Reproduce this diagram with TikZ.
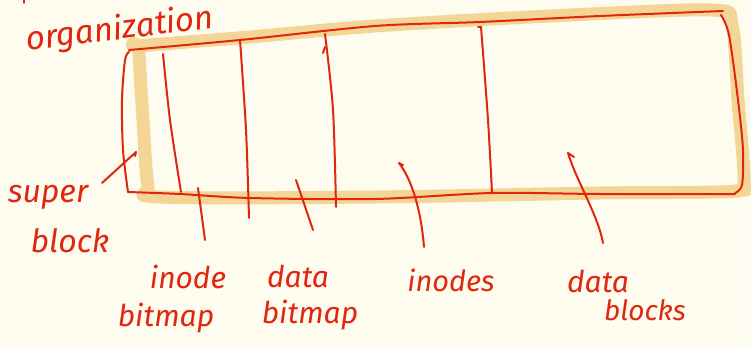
\documentclass[tikz,border=0pt]{standalone}
\usepackage{fontspec}
\setmainfont{Fira Sans}
\definecolor{bg}{HTML}{FEFCEE}
\definecolor{pen}{HTML}{E0260F}
\definecolor{hl}{HTML}{F3D595}
\begin{document}
\begin{tikzpicture}[x=1pt,y=-1pt,
  ink/.style={draw=pen,line width=2pt,line cap=round,line join=round},
  hilite/.style={draw=hl,line width=13pt,line cap=round,line join=round},
  lbl/.style={text=pen,font=\itshape\fontsize{#1}{#1}\selectfont,inner sep=0pt,anchor=center},
  lbl/.default=30]
\fill[bg] (0,0) rectangle (751,347);
\useasboundingbox (0,0) rectangle (751,347);
% highlight band
\draw[hilite] plot[smooth,tension=0.5] coordinates {(136,46) (250,37) (375,26) (550,16) (712,10) (732,25) (738,100) (744,178) (736,191) (600,193) (375,197) (160,197) (148,185) (143,120) (139,55)};
\fill[hl] (134,45) circle (8);
% block outline
\draw[ink] plot[smooth,tension=0.5] coordinates {(129,50) (240,40) (375,26) (480,22) (600,16) (723,11)};
\draw[ink] plot[smooth,tension=0.5] coordinates {(721,15) (729,35) (738,100) (743,150) (742,185) (735,193)};
\draw[ink] plot[smooth,tension=0.5] coordinates {(735,194) (600,194) (492,193) (375,199) (250,198) (180,194) (128,192)};
\draw[ink] plot[smooth,tension=0.5] coordinates {(128,192) (123,150) (122,100) (125,60) (129,52)};
% dividers
\draw[ink] plot[smooth] coordinates {(163,54) (170,120) (181,192)};
\draw[ink] plot[smooth] coordinates {(240,40) (246,130) (249,218)};
\draw[ink] (323,53) -- (325,47);
\draw[ink] plot[smooth] coordinates {(325,34) (333,110) (336,207)};
\draw[ink] (478,27) -- (481,27);
\draw[ink] plot[smooth] coordinates {(481,27) (488,120) (492,193)};
% labels
\node[lbl=33,rotate=7] (org) at (120,30) {organization};
\draw[ink] (24,0) -- (24,3);
\node[lbl=32] (super) at (48,197) {super};
\node[lbl=32] (block) at (70,241) {block};
\node[lbl=30] (inodeA) at (188,277) {inode};
\node[lbl=30] (bitmapA) at (166,318) {bitmap};
\node[lbl=30] (dataA) at (298,276) {data};
\node[lbl=30] (bitmapB) at (310,315) {bitmap};
\node[lbl=29] (inodes) at (451,280) {inodes};
\node[lbl=30] (dataB) at (598,281) {data};
\node[lbl=28] (blocks) at (645,310) {blocks};
% pointer ends
\coordinate (sbTail) at (102,183);
\coordinate (sbTip) at (136,152);
\coordinate (ibTail) at (205,240);
\coordinate (ibTip) at (198,188);
\coordinate (dbTail) at (313,230);
\coordinate (dbTip) at (296,180);
\coordinate (inTail) at (424,247);
\coordinate (inTip) at (399,163);
\coordinate (dkTail) at (603,243);
\coordinate (dkTip) at (568,153);
% pointers
\draw[ink] (sbTail) -- (sbTip) -- ++(-1,4);
\draw[ink] (ibTail) -- (ibTip);
\draw[ink] (dbTail) -- (dbTip);
\draw[ink] (inTail) .. controls (421,210) and (412,180) .. (inTip) -- ++(4,2);
\draw[ink] (dkTail) .. controls (598,215) and (576,180) .. (dkTip) -- ++(6,4);
\end{tikzpicture}
\end{document}
